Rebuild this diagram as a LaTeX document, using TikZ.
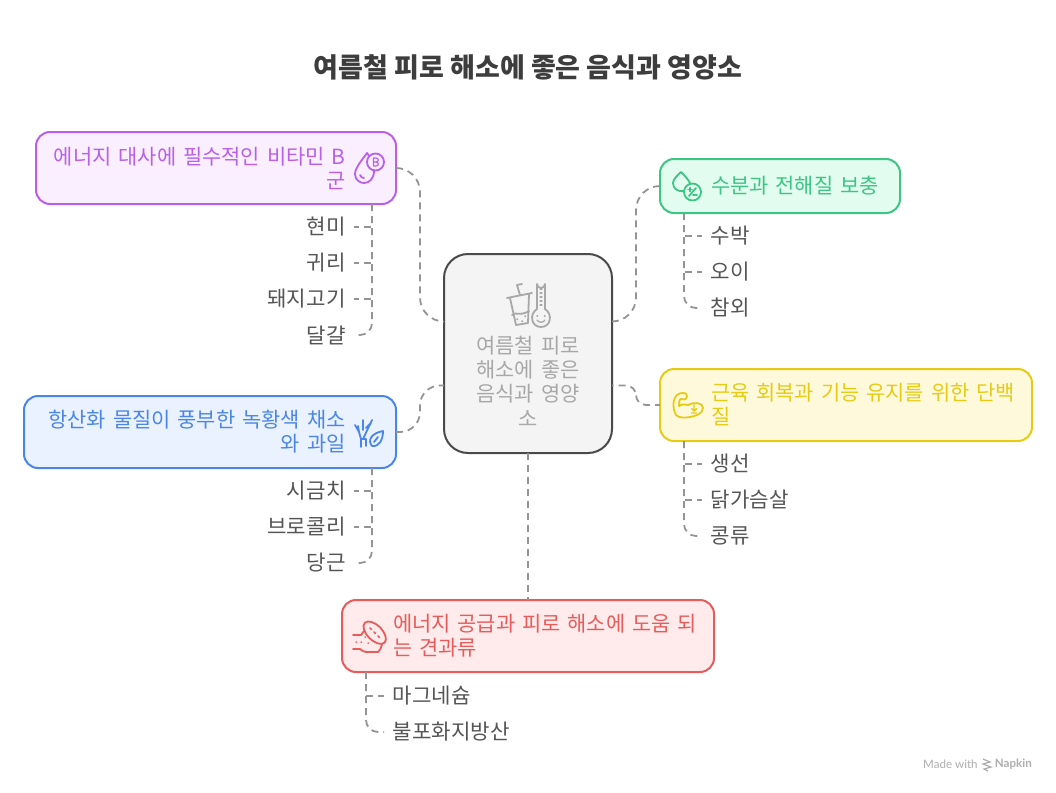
\documentclass[tikz,border=0pt]{standalone}
\usepackage{fontspec}
\setmainfont{Noto Sans CJK KR}
\newfontfamily\markfont{Lato}
\usepackage{xcolor}
\usetikzlibrary{arrows.meta, positioning}
\definecolor{vitaminline}{HTML}{BB5FE6}
\definecolor{vitaminfill}{HTML}{FAEFFF}
\definecolor{waterline}{HTML}{3CC583}
\definecolor{waterfill}{HTML}{E2FCEF}
\definecolor{proteinline}{HTML}{E6CB12}
\definecolor{proteinfill}{HTML}{FFF9DB}
\definecolor{greensline}{HTML}{4A86E8}
\definecolor{greensfill}{HTML}{EAF2FF}
\definecolor{nutline}{HTML}{E85B5B}
\definecolor{nutfill}{HTML}{FFEBEB}
\definecolor{hubline}{HTML}{4A4A4A}
\definecolor{hubfill}{HTML}{F4F4F4}
\definecolor{hubtext}{HTML}{A8A8A8}
\definecolor{itemtext}{HTML}{555555}
\definecolor{linkgray}{HTML}{949494}

\begin{document}
\begin{tikzpicture}[
  x=1pt, y=-1pt,
  topic/.style={rectangle, draw, rounded corners=14pt, line width=2pt, outer sep=0pt,
    inner sep=0pt, minimum height=72pt, font=\fontsize{20.9}{24}\selectfont},
  topicright/.style={topic, align=right, text width=#1, minimum width=#1,
    execute at begin node={\rightskip=50.5pt\relax}},
  topicleft/.style={topic, align=left, text width=#1, minimum width=#1,
    execute at begin node={\leftskip=51pt\relax}},
  itemright/.style={anchor=east, inner xsep=8.5pt, inner ysep=0pt, outer sep=0pt, text=itemtext,
    font=\fontsize{21.2}{24}\selectfont},
  itemleft/.style={itemright, anchor=west},
  link/.style={draw=linkgray, line width=1.8pt, dash pattern=on 7pt off 5pt},
  iconline/.style={line width=1.8pt, line cap=round, line join=round}
]
  \useasboundingbox (0,0) rectangle (1056,792);

  \node[font=\fontsize{27}{30}\bfseries\selectfont, text=black!76] (title) at (528,67) {여름철 피로 해소에 좋은 음식과 영양소};

  \node[rectangle, draw=hubline, fill=hubfill, rounded corners=24pt, line width=2pt, outer sep=0pt,
    inner sep=0pt, minimum height=199pt, text width=168pt, align=center, text=hubtext,
    font=\fontsize{20.9}{24.3}\selectfont] (hub) at (528,353.5) {\rule{0pt}{48pt}\\여름철 피로\\해소에 좋은\\음식과 영양\\소};

  \node[topicright=360pt, draw=vitaminline, fill=vitaminfill, text=vitaminline] (vitamin) at (216,168) {에너지 대사에 필수적인 비타민 B\\군};
  \node[topicleft=240pt, draw=waterline, fill=waterfill, text=waterline, minimum height=54pt] (water) at (780,186) {수분과 전해질 보충};
  \node[topicleft=372pt, draw=proteinline, fill=proteinfill, text=proteinline] (protein) at (846,405) {근육 회복과 기능 유지를 위한 단백\\질};
  \node[topicright=372pt, draw=greensline, fill=greensfill, text=greensline] (greens) at (210,432) {항산화 물질이 풍부한 녹황색 채소\\와 과일};
  \node[topicleft=372pt, draw=nutline, fill=nutfill, text=nutline] (nuts) at (528,636) {에너지 공급과 피로 해소에 도움 되\\는 견과류};

  \node[itemright] (brownrice) at (354,227) {현미};
  \node[itemright] (oats) at (354,263) {귀리};
  \node[itemright] (pork) at (354,299) {돼지고기};
  \node[itemright] (egg) at (354,335) {달걀};

  \node[itemleft] (melon) at (702,236) {수박};
  \node[itemleft] (cucumber) at (702,272) {오이};
  \node[itemleft] (yellowmelon) at (702,308) {참외};

  \node[itemleft] (fish) at (702,464) {생선};
  \node[itemleft] (chicken) at (702,500) {닭가슴살};
  \node[itemleft] (beans) at (702,536) {콩류};

  \node[itemright] (spinach) at (354,491) {시금치};
  \node[itemright] (broccoli) at (354,527) {브로콜리};
  \node[itemright] (carrot) at (354,563) {당근};

  \node[itemleft] (magnesium) at (384,696) {마그네슘};
  \node[itemleft] (fattyacid) at (384,732) {불포화지방산};

  \coordinate (vitaminroot) at ([xshift=156pt]vitamin.south);
  \coordinate (waterroot) at ([xshift=-96pt]water.south);
  \coordinate (proteinroot) at ([xshift=-162pt]protein.south);
  \coordinate (greensroot) at ([xshift=162pt]greens.south);
  \coordinate (nutsroot) at ([xshift=-162pt]nuts.south);

  \draw[link, rounded corners=24pt] (vitamin.east) -| ([xshift=-24pt,yshift=32pt]hub.west) -- ([yshift=32pt]hub.west);
  \draw[link, rounded corners=24pt] (water.west) -| ([xshift=24pt,yshift=32pt]hub.east) -- ([yshift=32pt]hub.east);
  \draw[link, rounded corners=10pt, dash phase=2pt] (protein.west) -| ([xshift=24pt,yshift=-32pt]hub.east) -- ([yshift=-32pt]hub.east);
  \draw[link, rounded corners=20pt] (greens.east) -| ([xshift=-24pt,yshift=-32pt]hub.west) -- ([yshift=-32pt]hub.west);
  \draw[link] (hub.south) -- (nuts.north);

  \draw[link] (vitaminroot) |- (brownrice.east);
  \draw[link] (vitaminroot) |- (oats.east);
  \draw[link] (vitaminroot) |- (pork.east);
  \draw[link, rounded corners=12pt] (vitaminroot) |- (egg.east);

  \draw[link] (waterroot) |- (melon.west);
  \draw[link] (waterroot) |- (cucumber.west);
  \draw[link, rounded corners=12pt] (waterroot) |- (yellowmelon.west);

  \draw[link] (proteinroot) |- (fish.west);
  \draw[link] (proteinroot) |- (chicken.west);
  \draw[link, rounded corners=12pt] (proteinroot) |- (beans.west);

  \draw[link] (greensroot) |- (spinach.east);
  \draw[link] (greensroot) |- (broccoli.east);
  \draw[link, rounded corners=12pt] (greensroot) |- (carrot.east);

  \draw[link] (nutsroot) |- (magnesium.west);
  \draw[link, rounded corners=12pt] (nutsroot) |- (fattyacid.west);

  \begin{scope}[iconline, draw=vitaminline]
    \draw (369,156) -- (367,153) .. controls (362,160) and (355,168) .. (355,174) .. controls (355,180) and (360,183) .. (364,183) .. controls (369,183) and (374,179) .. (374,171);
    \draw (375.5,162) circle (8.5);
    \draw[line width=1.2pt] (373.5,158) -- (373.5,166) -- (376,166) .. controls (379,166) and (379,162) .. (376,162) -- (373.5,162) (376,162) .. controls (379,162) and (379,158) .. (376,158) -- (373.5,158);
    \draw (360,175) .. controls (361,177) and (362,178) .. (364,178);
  \end{scope}

  \begin{scope}[iconline, draw=waterline]
    \draw (684,191) .. controls (677,192) and (673,188) .. (673,183) .. controls (673,179) and (678,175) .. (681,172) .. controls (684,175) and (688,179) .. (690,183);
    \draw (692.5,192) circle (8.5);
    \draw (689,196) -- (696,188);
    \draw (688,189.5) -- (692,189.5) (690,187.5) -- (690,191.5);
    \draw (693,195) -- (697,195);
  \end{scope}

  \begin{scope}[iconline, draw=proteinline]
    \draw (676,415) .. controls (672,408) and (673,398) .. (677,395) .. controls (681,392) and (687,392) .. (687,396) .. controls (687,400) and (683,400) .. (681,399) .. controls (679,399) and (679,403) .. (679,406) .. controls (682,404) and (685,404) .. (688,405) .. controls (693,402) and (703,402) .. (703,408) .. controls (703,414) and (695,416) .. (690,417) .. controls (684,418) and (679,418) .. (676,415);
    \draw[line width=1.4pt] (694,404) -- (694,411) (691.5,408.5) -- (694,411) -- (696.5,408.5) (691.5,413) -- (696.5,413);
  \end{scope}

  \begin{scope}[iconline, draw=greensline]
    \draw (361,447) -- (361,439) -- (366,439) -- (366,446);
    \draw (363,439) -- (372,420) (366,428) -- (371,423) (363,430) -- (363,420) (361,439) -- (359,432) -- (355,425) (359,432) -- (358,426);
    \draw (372,446) .. controls (367,440) and (372,433) .. (383,431) .. controls (383,440) and (379,447) .. (372,446);
    \draw (374,442) -- (378,437);
  \end{scope}

  \begin{scope}[iconline, draw=nutline]
    \draw[rotate around={-45:(374.7,632.7)}] (374.7,632.7) ellipse (14 and 7.5);
    \draw (353,635) -- (361,635) -- (364,631);
    \draw (353,649) -- (360,649) .. controls (362,650) and (363,652) .. (366,652) -- (378,652) .. controls (380,651) and (381,648) .. (382,644);
    \draw[line width=1.5pt] (370,628) -- (371.5,629.5) (374,632) -- (375.5,633.5) (378,636) -- (379.5,637.5) (356,642) -- (356.5,642) (361,642) -- (361.5,642) (368,643) -- (368.5,643) (365,637) -- (365.5,637);
  \end{scope}

  \begin{scope}[iconline, draw=hubtext]
    \draw (507,298) -- (532,293);
    \draw (510,298) -- (516,325) -- (528,323) -- (529,294);
    \draw (520,295) -- (517,285) -- (522,284);
    \draw (512,315) .. controls (516,311) and (519,317) .. (529,311);
    \draw[line width=1.5pt] (517,319) -- (517.5,319.5) (522,321) -- (522.5,321.5) (525,316) -- (525.5,316.5);
    \draw (537,309) -- (537,284) arc[start angle=180, end angle=0, radius=4] -- (545,309) .. controls (553,314) and (551,327) .. (541,327) .. controls (531,327) and (529,314) .. (537,309);
    \draw[line width=1.2pt] (540,289) -- (542,289) (540,293) -- (542,293) (540,297) -- (542,297) (540,301) -- (542,301) (540,305) -- (542,305);
    \draw[line width=1.5pt] (537,316) -- (537.5,316) (544.5,316) -- (545,316);
    \draw[line width=1.3pt] (537,320) .. controls (539,323) and (543,323) .. (545,320);
  \end{scope}

  \node[anchor=west, inner sep=0pt, text=black!32, font=\markfont\fontsize{11.6}{13}\selectfont] (madewith) at (923,764) {Made with};
  \node[anchor=east, inner sep=0pt, text=black!32, font=\markfont\bfseries\fontsize{11.6}{13}\selectfont] (napkin) at (1032,764) {Napkin};
  \draw[black!32, line width=1.2pt] (983,759) -- (990,762) -- (983,764) -- (991,767) -- (984,769) -- (988,771);
\end{tikzpicture}
\end{document}
